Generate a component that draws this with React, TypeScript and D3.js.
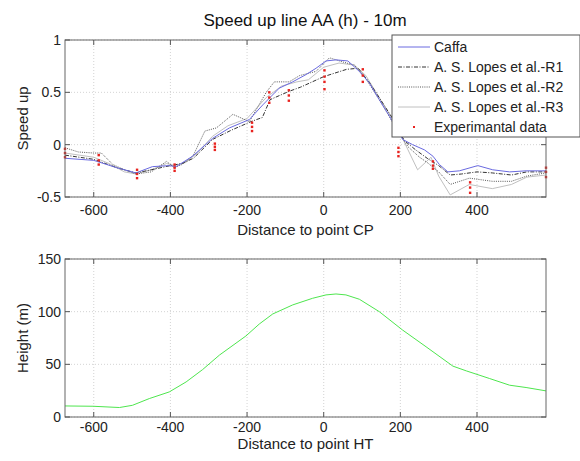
import React from "react";
import * as d3 from "d3";

const xTicks = [-600, -400, -200, 0, 200, 400];
const speedTicks = [-0.5, 0, 0.5, 1];
const heightTicks = [0, 50, 100, 150];

const caffaX = [-675, -600, -540, -490, -447, -403, -385, -342, -290, -246, -194, -159, -116, -81, -46, -20, 6, 32, 63, 93, 119, 145, 172, 206, 232, 263, 285, 302, 324, 354, 402, 441, 485, 528, 580];
const caffaY = [-0.13, -0.15, -0.22, -0.27, -0.21, -0.2, -0.21, -0.11, 0.06, 0.16, 0.24, 0.38, 0.54, 0.6, 0.67, 0.73, 0.8, 0.81, 0.8, 0.7, 0.59, 0.43, 0.27, 0.05, 0.0, -0.05, -0.11, -0.19, -0.26, -0.25, -0.2, -0.24, -0.26, -0.25, -0.25];

const r1X = [-675, -600, -540, -490, -450, -400, -370, -340, -290, -240, -190, -160, -140, -90, -60, 0, 60, 90, 120, 150, 180, 210, 240, 270, 300, 330, 360, 400, 440, 490, 530, 580];
const r1Y = [-0.1, -0.14, -0.22, -0.27, -0.24, -0.2, -0.18, -0.13, 0.05, 0.14, 0.22, 0.26, 0.43, 0.51, 0.55, 0.65, 0.72, 0.73, 0.59, 0.42, 0.25, 0.04, -0.05, -0.13, -0.2, -0.29, -0.28, -0.26, -0.27, -0.29, -0.26, -0.26];

const r2X = [-675, -640, -600, -580, -550, -520, -490, -450, -410, -390, -370, -340, -310, -280, -237, -194, -150, -129, -90, -63, -20, 15, 50, 80, 110, 150, 190, 220, 250, 270, 300, 330, 380, 440, 490, 530, 580];
const r2Y = [-0.03, -0.07, -0.08, -0.08, -0.19, -0.24, -0.28, -0.26, -0.16, -0.22, -0.19, -0.1, 0.13, 0.16, 0.29, 0.22, 0.5, 0.6, 0.6, 0.66, 0.7, 0.83, 0.79, 0.76, 0.63, 0.4, 0.15, -0.02, -0.12, -0.17, -0.26, -0.38, -0.32, -0.35, -0.35, -0.3, -0.27];

const r3X = [-675, -600, -560, -520, -490, -450, -410, -390, -360, -330, -290, -250, -200, -150, -110, -70, -40, 0, 40, 80, 110, 150, 190, 220, 245, 280, 300, 330, 380, 440, 490, 530, 580];
const r3Y = [-0.08, -0.12, -0.18, -0.26, -0.28, -0.24, -0.18, -0.2, -0.17, -0.08, 0.08, 0.18, 0.25, 0.45, 0.56, 0.6, 0.62, 0.74, 0.78, 0.76, 0.66, 0.42, 0.18, -0.05, -0.24, -0.12, -0.3, -0.48, -0.38, -0.42, -0.38, -0.31, -0.29];

const expX = [-675, -675, -675, -587, -587, -587, -487, -487, -487, -389, -389, -389, -284, -284, -284, -187, -187, -187, -142, -142, -142, -91, -91, -91, 2, 2, 2, 2, 102, 102, 102, 195, 195, 195, 285, 285, 285, 382, 382, 382, 580, 580, 580];
const expY = [-0.04, -0.08, -0.12, -0.1, -0.15, -0.19, -0.24, -0.28, -0.32, -0.19, -0.22, -0.25, 0.01, -0.02, -0.05, 0.21, 0.17, 0.13, 0.5, 0.45, 0.4, 0.52, 0.47, 0.42, 0.71, 0.65, 0.6, 0.53, 0.72, 0.66, 0.6, -0.03, -0.07, -0.11, -0.16, -0.2, -0.23, -0.36, -0.41, -0.46, -0.22, -0.26, -0.31];

const hX = [-676, -602, -533, -499, -455, -403, -359, -316, -272, -203, -168, -133, -81, -29, 6, 32, 58, 93, 145, 206, 267, 337, 372, 433, 485, 528, 580];
const hY = [10.5, 10.2, 9, 11.1, 17.5, 23.8, 33.3, 45, 58.8, 76.9, 88.3, 97.8, 106.4, 112.7, 115.9, 116.8, 115.9, 111.8, 100, 82.5, 66.7, 48.3, 43.8, 36.5, 30.2, 28, 24.8];

const legendLabels = ["Caffa", "A. S. Lopes et al.-R1", "A. S. Lopes et al.-R2", "A. S. Lopes et al.-R3", "Experimantal data"];

const FONT = "Liberation Sans, Arial, sans-serif";
const L = 65, R = 546;
const T1 = 40, B1 = 197;
const T2 = 259, B2 = 417;

const styles = [
  { stroke: "#6a6ae0", dash: "", width: 1 },
  { stroke: "#333333", dash: "4,1.5,1,1.5", width: 1 },
  { stroke: "#555555", dash: "1,1.2", width: 1 },
  { stroke: "#c0c0c0", dash: "", width: 1 },
];

function Grid({ x, y, yTicks, top, bottom }: any) {
  return (
    <g>
      {xTicks.map((t) => (
        <line key={"gx" + t} x1={x(t)} x2={x(t)} y1={top} y2={bottom} stroke="#c8c8c8" strokeWidth={0.8} strokeDasharray="1,2" />
      ))}
      {yTicks.map((t: number) => (
        <line key={"gy" + t} x1={L} x2={R} y1={y(t)} y2={y(t)} stroke="#c8c8c8" strokeWidth={0.8} strokeDasharray="1,2" />
      ))}
    </g>
  );
}

function Axes({ x, y, yTicks, top, bottom, labelDy }: any) {
  const tk = 5;
  return (
    <g fontFamily={FONT} fontSize={14} fill="#222">
      <rect x={L} y={top} width={R - L} height={bottom - top} fill="none" stroke="#666" strokeWidth={1} />
      {xTicks.map((t) => (
        <g key={"tx" + t}>
          <line x1={x(t)} x2={x(t)} y1={bottom} y2={bottom - tk} stroke="#555" />
          <line x1={x(t)} x2={x(t)} y1={top} y2={top + tk} stroke="#555" />
          <text x={x(t)} y={bottom + labelDy} textAnchor="middle">{t}</text>
        </g>
      ))}
      {yTicks.map((t: number) => (
        <g key={"ty" + t}>
          <line x1={L} x2={L + tk} y1={y(t)} y2={y(t)} stroke="#555" />
          <line x1={R} x2={R - tk} y1={y(t)} y2={y(t)} stroke="#555" />
          <text x={L - 4} y={y(t) + 5} textAnchor="end">{String(t)}</text>
        </g>
      ))}
    </g>
  );
}

export default function App() {
  const x = d3.scaleLinear().domain([-675, 580]).range([L, R]);
  const y1 = d3.scaleLinear().domain([-0.5, 1]).range([B1, T1]);
  const y2 = d3.scaleLinear().domain([0, 150]).range([B2, T2]);

  const line1 = (xs: number[], ys: number[]) =>
    d3.line<number>().x((_, i) => x(xs[i])).y((d) => y1(d))(ys) || "";
  const line2 = d3.line<number>().x((_, i) => x(hX[i])).y((d) => y2(d));

  const series = [
    [caffaX, caffaY],
    [r1X, r1Y],
    [r2X, r2Y],
    [r3X, r3Y],
  ];

  const lgX = 392, lgY = 35, lgW = 188, lgH = 102;
  const rows = [47, 67, 87, 107, 127];

  return (
    <svg width={580} height={461} style={{ position: "absolute", left: 0, top: 0, background: "#fff" }}>
      <defs>
        <clipPath id="c1"><rect x={L} y={T1} width={R - L} height={B1 - T1} /></clipPath>
        <clipPath id="c2"><rect x={L} y={T2} width={R - L} height={B2 - T2} /></clipPath>
      </defs>
      <rect x={0} y={0} width={580} height={461} fill="#fff" />
      <text x={305} y={26} textAnchor="middle" fontFamily={FONT} fontSize={17} fill="#111">Speed up line AA (h) - 10m</text>

      <Grid x={x} y={y1} yTicks={speedTicks} top={T1} bottom={B1} />
      <g clipPath="url(#c1)">
        {[3, 2, 1, 0].map((k) => (
          <path key={k} d={line1(series[k][0], series[k][1])} fill="none" stroke={styles[k].stroke} strokeWidth={styles[k].width} strokeDasharray={styles[k].dash} />
        ))}
      </g>
      <g>
        {expY.map((v, i) => (
          <rect key={i} x={x(expX[i]) - 1.2} y={y1(v) - 1.2} width={2.4} height={2.4} fill="#e8231f" />
        ))}
      </g>
      <Axes x={x} y={y1} yTicks={speedTicks} top={T1} bottom={B1} labelDy={18} />
      <text x={305.5} y={235} textAnchor="middle" fontFamily={FONT} fontSize={15} fill="#222">Distance to point CP</text>
      <text transform={`translate(28,${(T1 + B1) / 2}) rotate(-90)`} textAnchor="middle" fontFamily={FONT} fontSize={15} fill="#222">Speed up</text>

      <g>
        <rect x={lgX} y={lgY} width={lgW} height={lgH} fill="#fff" stroke="#555" strokeWidth={1} />
        {legendLabels.map((lab, i) => (
          <g key={lab}>
            {i < 4 ? (
              <line x1={398} x2={430} y1={rows[i]} y2={rows[i]} stroke={styles[i].stroke} strokeWidth={styles[i].width} strokeDasharray={styles[i].dash} />
            ) : (
              <rect x={413} y={rows[i] - 1} width={2} height={2} fill="#e8231f" />
            )}
            <text x={434} y={rows[i] + 5} fontFamily={FONT} fontSize={14} fill="#222">{lab}</text>
          </g>
        ))}
      </g>

      <Grid x={x} y={y2} yTicks={heightTicks} top={T2} bottom={B2} />
      <g clipPath="url(#c2)">
        <path d={line2(hY) || ""} fill="none" stroke="#4ee64e" strokeWidth={1} />
      </g>
      <Axes x={x} y={y2} yTicks={heightTicks} top={T2} bottom={B2} labelDy={15} />
      <text x={305.5} y={449} textAnchor="middle" fontFamily={FONT} fontSize={15} fill="#222">Distance to point HT</text>
      <text transform={`translate(28,${(T2 + B2) / 2}) rotate(-90)`} textAnchor="middle" fontFamily={FONT} fontSize={15} fill="#222">Height (m)</text>
    </svg>
  );
}
